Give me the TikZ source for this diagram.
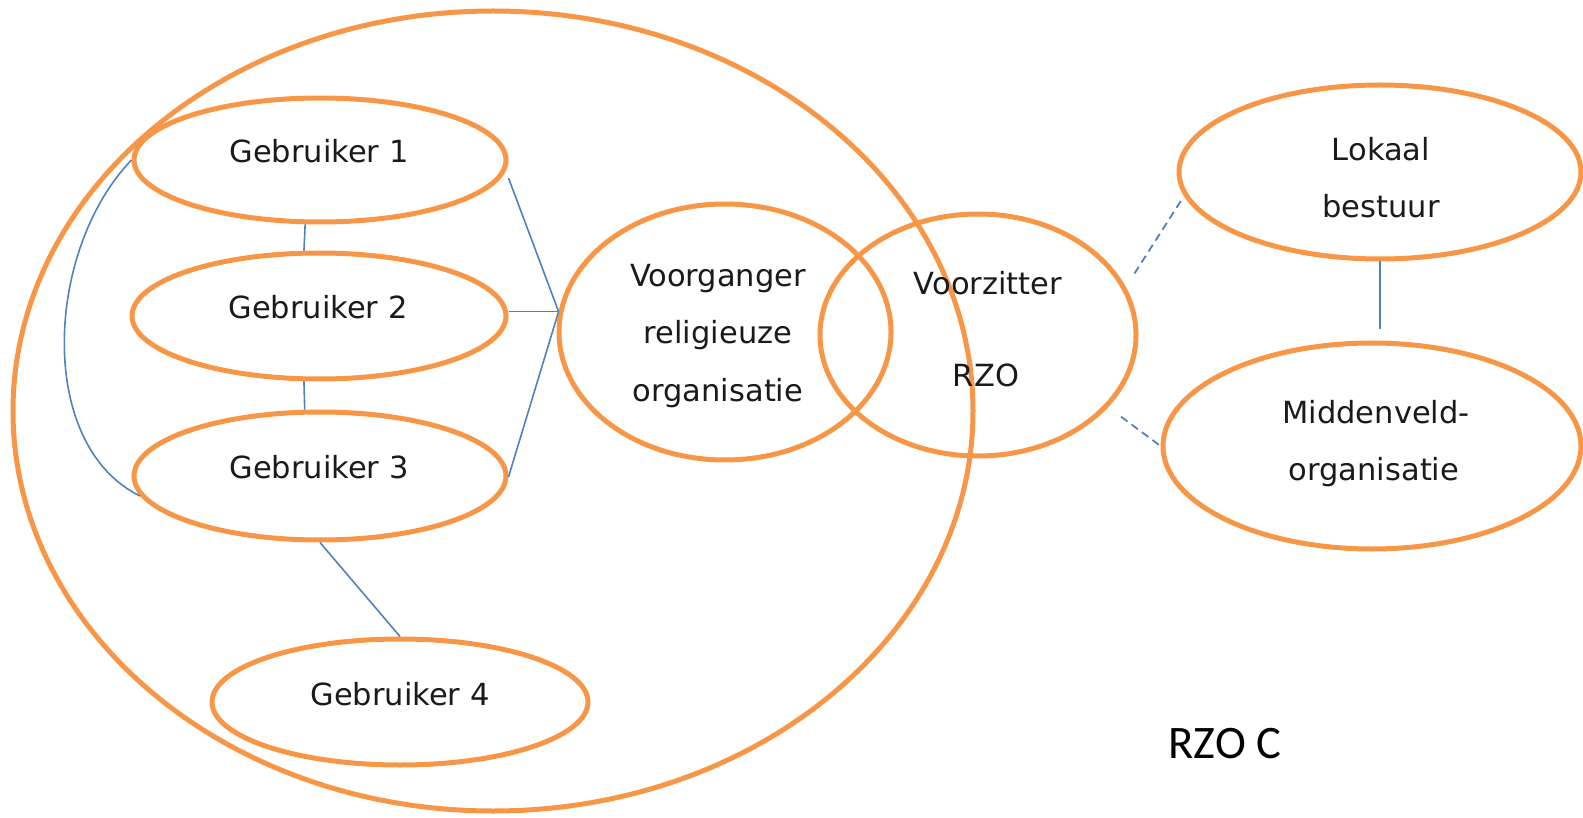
\documentclass[tikz,border=0pt]{standalone}
\usepackage{fontspec}
\setmainfont{DejaVu Sans}
\newfontfamily\rzofont{Carlito}
\usetikzlibrary{shapes.geometric,calc}
\definecolor{orng}{HTML}{F79646}
\definecolor{lnk}{HTML}{4F81BD}
\definecolor{txt}{HTML}{1A1A1A}
\begin{document}
\begin{tikzpicture}[x=1pt,y=-1pt,
  ell/.style={ellipse,draw=orng,line width=5pt,inner sep=0pt},
  lbl/.style={anchor=base,inner sep=0pt,text=txt,font=\fontsize{30.5}{36}\selectfont},
  link/.style={draw=lnk,line width=1.6pt},
  dlink/.style={draw=lnk,line width=1.8pt,dash pattern=on 8pt off 5pt}]
\useasboundingbox (0,0) rectangle (1583,818);
% ellipses
\node[ell,minimum width=960pt,minimum height=800pt] (big) at (493,411) {};
\node[ell,minimum width=372pt,minimum height=124pt] (g1) at (320,160) {};
\node[ell,minimum width=374pt,minimum height=126pt] (g2) at (319,316) {};
\node[ell,minimum width=372pt,minimum height=128pt] (g3) at (320,476) {};
\node[ell,minimum width=376pt,minimum height=126pt] (g4) at (400,702) {};
\node[ell,minimum width=332pt,minimum height=256pt] (vg) at (725,332) {};
\node[ell,minimum width=316pt,minimum height=242pt] (vz) at (978,335) {};
\node[ell,minimum width=402pt,minimum height=174pt] (lok) at (1380,172) {};
\node[ell,minimum width=418pt,minimum height=206pt] (mid) at (1372,446) {};
% texts
\node[lbl] (t1) at (319,163) {Gebruiker 1};
\node[lbl] (t2) at (318,319) {Gebruiker 2};
\node[lbl] (t3) at (319,478) {Gebruiker 3};
\node[lbl] (t4) at (400,705) {Gebruiker 4};
\node[lbl] (vga) at (718,287) {Voorganger};
\node[lbl] (vgb) at (718,344) {religieuze};
\node[lbl] (vgc) at (718,402) {organisatie};
\node[lbl] (vza) at (988,295) {Voorzitter};
\node[lbl] (vzb) at (986,386) {RZO};
\node[lbl] (la) at (1381,161) {Lokaal};
\node[lbl] (lb) at (1381,218) {bestuur};
\node[lbl] (ma) at (1376,423) {Middenveld-};
\node[lbl] (mb) at (1374,480) {organisatie};
\node[anchor=base,inner sep=0pt,font=\rzofont\fontsize{46.6}{50}\selectfont] (rzoc) at (1225,758) {RZO C};
% connectors
\coordinate (j) at (vg.173);
\draw[link] (g1.east |- 0,178) -- (j);
\draw[link] (g2.east |- j) -- (j);
\draw[link] (g3.east |- 0,477) -- (j);
\draw[link] (g1.257) -- (g2.103);
\draw[link] (g2.257) -- (g3.103);
\draw[link] (g3.south) -- (g4.north);
\draw[link] (g1.west) .. controls (45,250) and (36,445) .. ($(g3.center)+(-180,20)$);
\draw[link,shorten >=11pt] (lok.south) -- (lok.south |- mid.north);
\draw[dlink,shorten <=16pt,shorten >=6pt] (vz.18) -- (lok.187);
\draw[dlink,shorten <=16pt] (vz.-29) -- (mid.west);
\end{tikzpicture}
\end{document}
